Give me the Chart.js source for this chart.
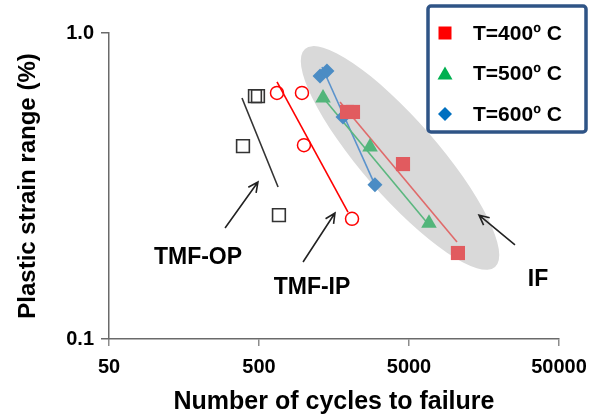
<!DOCTYPE html>
<html>
<head>
<meta charset="utf-8">
<script src="https://cdn.jsdelivr.net/npm/chart.js@4/dist/chart.umd.min.js"></script>
<style>
  html, body { margin: 0; padding: 0; background: #ffffff; }
  #wrap { width: 598px; height: 420px; }
</style>
</head>
<body>
<div id="wrap"><canvas id="c" width="598" height="420"></canvas></div>
<script>
// ---------- data ----------
const xTicks = [50, 500, 5000, 50000];
const yTicks = [0.1, 1.0];

const opCycles = [470, 492, 391, 679];
const opStrain = [0.622, 0.622, 0.427, 0.254];
const opFitCycles = [385, 670];
const opFitStrain = [0.613, 0.314];

const ipCycles = [659, 967, 997, 2085];
const ipStrain = [0.637, 0.637, 0.430, 0.247];
const ipFitCycles = [659, 1960];
const ipFitStrain = [0.692, 0.260];

const t400Cycles = [1931, 2116, 4560, 10600];
const t400Strain = [0.552, 0.552, 0.373, 0.191];
const t400FitCycles = [1734, 10447];
const t400FitStrain = [0.595, 0.2075];

const t500Cycles = [1336, 2749, 6795];
const t500Strain = [0.613, 0.424, 0.239];
const t500FitCycles = [1377, 6795];
const t500FitStrain = [0.604, 0.236];

const t600Cycles = [1276, 1419, 1816, 2965];
const t600Strain = [0.724, 0.751, 0.531, 0.319];
const t600FitCycles = [1315, 2965];
const t600FitStrain = [0.774, 0.319];

const legendLabels = ['T=400º C', 'T=500º C', 'T=600º C'];
const groupLabels = ['TMF-OP', 'TMF-IP', 'IF'];

// ---------- annotations (data coordinates) ----------
const ellipseEnds = [[1013, 0.887], [18730, 0.172]];
const arrowDefs = [
  { from: [297, 0.2305], to: [492, 0.326] },
  { from: [983, 0.1785], to: [1605, 0.258] },
  { from: [25440, 0.203], to: [14645, 0.254] }
];
const labelPos = [[196, 0.185], [1128, 0.147], [36220, 0.156]];

const FONT = "'Liberation Sans', Arial, sans-serif";
const pts = (xs, ys) => xs.map((v, i) => ({ x: v, y: ys[i] }));

function markerSet(label, xs, ys, style, fill, border, radius, bw) {
  return { label, data: pts(xs, ys), showLine: false, pointStyle: style,
    pointRadius: radius, pointHoverRadius: radius, pointBackgroundColor: fill,
    pointBorderColor: border, pointBorderWidth: bw, order: 1 };
}
function fitSet(label, xs, ys, color) {
  return { label, data: pts(xs, ys), showLine: true, pointRadius: 0,
    borderColor: color, borderWidth: 1.6, fill: false, order: 2 };
}

const datasets = [
  fitSet('TMF-OP fit', opFitCycles, opFitStrain, '#333333'),
  fitSet('TMF-IP fit', ipFitCycles, ipFitStrain, '#ff0000'),
  fitSet('400 fit', t400FitCycles, t400FitStrain, '#e06a6a'),
  fitSet('500 fit', t500FitCycles, t500FitStrain, '#5bb77f'),
  fitSet('600 fit', t600FitCycles, t600FitStrain, '#5b93cc'),
  markerSet('TMF-OP', opCycles, opStrain, 'rect', 'rgba(255,255,255,0)', '#333333', 9, 1.6),
  markerSet('TMF-IP', ipCycles, ipStrain, 'circle', 'rgba(255,255,255,0)', '#ff0000', 6.5, 1.5),
  markerSet(legendLabels[0], t400Cycles, t400Strain, 'rect', '#e15b5f', '#e15b5f', 10, 0),
  markerSet(legendLabels[1], t500Cycles, t500Strain, 'triangle', '#52b57a', '#52b57a', 9, 0),
  markerSet(legendLabels[2], t600Cycles, t600Strain, 'rectRot', '#4b8cc4', '#4b8cc4', 7.5, 0)
];

const legendColors = ['#ff0000', '#00b050', '#0070c0'];
const legendShapes = ['square', 'triangle', 'diamond'];

function drawArrow(ctx, x1, y1, x2, y2) {
  const a = Math.atan2(y2 - y1, x2 - x1), h = 11, w = 0.45;
  ctx.beginPath();
  ctx.moveTo(x1, y1); ctx.lineTo(x2, y2);
  ctx.moveTo(x2 - h * Math.cos(a - w), y2 - h * Math.sin(a - w));
  ctx.lineTo(x2, y2);
  ctx.lineTo(x2 - h * Math.cos(a + w), y2 - h * Math.sin(a + w));
  ctx.stroke();
}

const annot = {
  id: 'annot',
  beforeDatasetsDraw(chart) {
    const { ctx, scales: { x, y } } = chart;
    const x1 = x.getPixelForValue(ellipseEnds[0][0]), y1 = y.getPixelForValue(ellipseEnds[0][1]);
    const x2 = x.getPixelForValue(ellipseEnds[1][0]), y2 = y.getPixelForValue(ellipseEnds[1][1]);
    const cx = (x1 + x2) / 2, cy = (y1 + y2) / 2;
    const len = Math.hypot(x2 - x1, y2 - y1) / 2;
    const ang = Math.atan2(y2 - y1, x2 - x1);
    ctx.save();
    ctx.fillStyle = '#d9d9d9';
    ctx.beginPath();
    ctx.ellipse(cx, cy, len, 38, ang, 0, Math.PI * 2);
    ctx.fill();
    ctx.restore();
  },
  afterDraw(chart) {
    const { ctx, scales: { x, y } } = chart;
    ctx.save();
    // arrows
    ctx.strokeStyle = '#222222';
    ctx.lineWidth = 1.6;
    arrowDefs.forEach(a => drawArrow(ctx,
      x.getPixelForValue(a.from[0]), y.getPixelForValue(a.from[1]),
      x.getPixelForValue(a.to[0]), y.getPixelForValue(a.to[1])));
    // group labels
    ctx.fillStyle = '#000000';
    ctx.font = 'bold 23px ' + FONT;
    ctx.textAlign = 'center';
    ctx.textBaseline = 'middle';
    groupLabels.forEach((t, i) => ctx.fillText(t,
      x.getPixelForValue(labelPos[i][0]), y.getPixelForValue(labelPos[i][1])));
    // legend box
    const bx = 428, by = 6, bw = 158, bh = 126;
    ctx.fillStyle = '#ffffff';
    ctx.strokeStyle = '#2f5486';
    ctx.lineWidth = 3.5;
    ctx.beginPath();
    ctx.roundRect(bx, by, bw, bh, 3);
    ctx.fill();
    ctx.stroke();
    ctx.font = 'bold 21px ' + FONT;
    ctx.textAlign = 'left';
    legendLabels.forEach((t, i) => {
      const cy = by + 27 + i * 40.5, mx = 445;
      ctx.fillStyle = legendColors[i];
      ctx.beginPath();
      if (legendShapes[i] === 'square') {
        ctx.rect(mx - 6.5, cy - 6.5, 13, 13);
      } else if (legendShapes[i] === 'triangle') {
        ctx.moveTo(mx, cy - 7); ctx.lineTo(mx + 7.5, cy + 6); ctx.lineTo(mx - 7.5, cy + 6); ctx.closePath();
      } else {
        ctx.moveTo(mx, cy - 7); ctx.lineTo(mx + 7, cy); ctx.lineTo(mx, cy + 7); ctx.lineTo(mx - 7, cy); ctx.closePath();
      }
      ctx.fill();
      ctx.fillStyle = '#000000';
      ctx.fillText(t, 473, cy + 1);
    });
    ctx.restore();
  }
};

new Chart(document.getElementById('c'), {
  type: 'scatter',
  data: { datasets },
  options: {
    responsive: false,
    animation: false,
    clip: false,
    layout: { padding: { left: 0, right: 39, top: 33, bottom: 0 } },
    plugins: { legend: { display: false }, tooltip: { enabled: false } },
    scales: {
      x: {
        type: 'logarithmic', min: 50, max: 50000,
        afterBuildTicks: s => { s.ticks = xTicks.map(v => ({ value: v })); },
        afterFit: s => { s.height = 81; },
        ticks: { color: '#000', font: { family: FONT, size: 20, weight: 'bold' }, padding: 9,
          callback: v => String(v), maxRotation: 0, autoSkip: false },
        grid: { drawOnChartArea: false, tickLength: 7, tickColor: '#8c8c8c', lineWidth: 1.5 },
        border: { color: '#6a6a6a', width: 1.5 },
        title: { display: true, text: 'Number of cycles to failure', color: '#000',
          font: { family: FONT, size: 25, weight: 'bold' }, padding: { top: 0, bottom: 3 } }
      },
      y: {
        type: 'logarithmic', min: 0.1, max: 1.0,
        afterBuildTicks: s => { s.ticks = yTicks.map(v => ({ value: v })); },
        afterFit: s => { s.width = 109; },
        ticks: { color: '#000', font: { family: FONT, size: 20, weight: 'bold' }, padding: 7,
          callback: v => Number(v).toFixed(1), autoSkip: false },
        grid: { drawOnChartArea: false, tickLength: 8, tickColor: '#6a6a6a', lineWidth: 1.5 },
        border: { color: '#6a6a6a', width: 1.5 },
        title: { display: true, text: 'Plastic strain range (%)', color: '#000',
          font: { family: FONT, size: 24, weight: 'bold' }, padding: { top: 14, bottom: 0 } }
      }
    }
  },
  plugins: [annot]
});
</script>
</body>
</html>
